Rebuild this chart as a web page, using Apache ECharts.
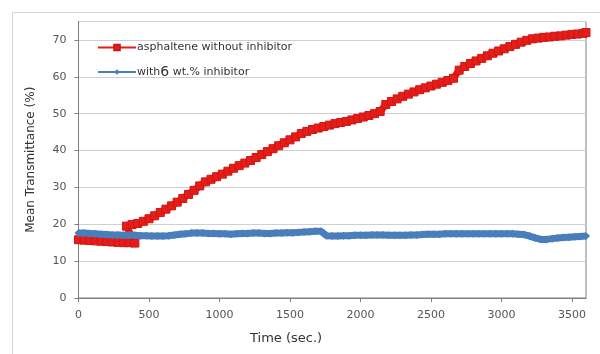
<!DOCTYPE html>
<html><head><meta charset="utf-8">
<script src="https://cdn.jsdelivr.net/npm/echarts@6/dist/echarts.min.js"></script>
<style>html,body{margin:0;padding:0;background:#fff}#c{width:600px;height:354px}</style>
</head><body><div id="c"></div>
<script>
var seriesNames = ['asphaltene without inhibitor', 'with6 wt.% inhibitor'];
var xTicks = [0, 500, 1000, 1500, 2000, 2500, 3000, 3500];
var yTicks = [0, 10, 20, 30, 40, 50, 60, 70];

var redTime = [0,40,80,120,160,200,240,280,320,360,400,
  340,380,420,460,500,540,580,620,660,700,740,780,820,860,900,940,980,1020,1060,1100,1140,1180,1220,1260,1300,1340,1380,1420,1460,1500,1540,1580,1620,1660,1700,1740,1780,1820,1860,1900,1940,1980,2020,2060,2100,2140,2180,2220,2260,2300,2340,2380,2420,2460,2500,2540,2580,2620,2660,2700,2740,2780,2820,2860,2900,2940,2980,3020,3060,3100,3140,3180,3220,3260,3300,3340,3380,3420,3460,3500,3540,3580,3600];
var redValue = [15.8,15.7,15.6,15.5,15.4,15.3,15.2,15.1,15.0,15.0,14.9,
  19.5,19.9,20.2,20.8,21.5,22.3,23.2,24.1,25.0,26.0,27.0,28.1,29.2,30.4,31.5,32.2,32.9,33.6,34.4,35.2,35.9,36.6,37.3,38.1,38.9,39.7,40.5,41.3,42.1,42.9,43.7,44.6,45.2,45.7,46.1,46.5,46.9,47.3,47.6,47.9,48.3,48.7,49.1,49.5,50.0,50.6,52.5,53.3,54.0,54.7,55.3,55.9,56.5,57.0,57.5,58.0,58.5,59.0,59.6,61.8,62.8,63.6,64.3,65.0,65.7,66.4,67.0,67.6,68.2,68.8,69.4,69.9,70.3,70.5,70.7,70.8,71.0,71.1,71.3,71.5,71.6,71.8,72.0];

var blueTime = [0,40,80,120,160,200,240,280,320,360,400,440,480,520,560,600,640,680,720,760,800,840,880,920,960,1000,1040,1080,1120,1160,1200,1240,1280,1320,1360,1400,1440,1480,1520,1560,1600,1640,1680,1720,1760,1800,1840,1880,1920,1960,2000,2040,2080,2120,2160,2200,2240,2280,2320,2360,2400,2440,2480,2520,2560,2600,2640,2680,2720,2760,2800,2840,2880,2920,2960,3000,3040,3080,3120,3160,3200,3240,3280,3320,3360,3400,3440,3480,3520,3560,3600];
var blueValue = [17.6,17.6,17.5,17.4,17.3,17.2,17.1,17.1,17.0,17.0,17.0,16.9,16.9,16.8,16.8,16.8,16.9,17.1,17.3,17.4,17.6,17.6,17.6,17.5,17.5,17.4,17.4,17.3,17.4,17.5,17.5,17.6,17.6,17.5,17.5,17.6,17.6,17.7,17.7,17.8,17.9,18.0,18.1,18.1,16.9,16.8,16.8,16.9,16.9,17.0,17.0,17.0,17.1,17.1,17.1,17.0,17.0,17.0,17.0,17.1,17.1,17.2,17.3,17.3,17.3,17.4,17.4,17.4,17.4,17.4,17.4,17.4,17.4,17.4,17.4,17.4,17.4,17.4,17.3,17.2,16.8,16.3,15.9,15.9,16.1,16.3,16.4,16.5,16.6,16.7,16.8];

function pairs(t, v){ return t.map(function(x,i){ return [x, v[i]]; }); }

var chart = echarts.init(document.getElementById('c'), null, {renderer:'canvas'});
chart.setOption({
  animation: false,
  backgroundColor: '#fff',
  graphic: [
    {type:'rect', shape:{x:12.5, y:12.5, width:600, height:360}, style:{fill:'none', stroke:'#d4d4d4', lineWidth:1}, z:-1},
    {type:'text', left: 250, top: 332, style:{text:'Time (sec.)', font:'13px "DejaVu Sans", sans-serif', fill:'#333'}}
  ],
  grid: {left: 78.5, right: 14, top: 21.5, bottom: 56, show: true, borderColor: '#7f7f7f', borderWidth: 1},
  legend: {
    orient: 'vertical', left: 92, top: 37, itemWidth: 38, itemHeight: 7, itemGap: 12,
    data: seriesNames,
    lineStyle: {width: 2},
    textStyle: {fontSize: 11, color: '#333', fontFamily: 'DejaVu Sans', padding:[0,0,0,-4],
      rich: {b: {fontSize: 14, color: '#333', fontFamily: 'DejaVu Sans'}}},
    formatter: function(n){ return n === seriesNames[1] ? 'with{b|6} wt.% inhibitor' : n; }
  },
  xAxis: {
    type: 'value', min: 0, max: 3600, interval: 500,
    axisLine: {show: true, lineStyle: {color: '#7f7f7f'}},
    axisTick: {show: true, length: 4, lineStyle: {color: '#7f7f7f'}},
    splitLine: {show: false},
    axisLabel: {color: '#555', fontSize: 11, fontFamily: 'DejaVu Sans', margin: 12, showMaxLabel: false,
      formatter: function(v){ return xTicks.indexOf(v) >= 0 ? String(v) : ''; }}
  },
  yAxis: {
    type: 'value', min: 0, max: 75, interval: 10,
    name: 'Mean Transmittance (%)', nameLocation: 'middle', nameGap: 42,
    nameTextStyle: {fontSize: 12, color: '#333', fontFamily: 'DejaVu Sans'},
    axisLine: {show: true, lineStyle: {color: '#7f7f7f'}},
    axisTick: {show: true, length: 4, lineStyle: {color: '#7f7f7f'}},
    splitLine: {show: true, lineStyle: {color: '#cfcfcf'}},
    axisLabel: {color: '#555', fontSize: 11, fontFamily: 'DejaVu Sans', margin: 12, showMaxLabel: false,
      formatter: function(v){ return yTicks.indexOf(v) >= 0 ? String(v) : ''; }}
  },
  series: [
    {name: seriesNames[0], type: 'line', data: pairs(redTime, redValue),
      symbol: 'rect', symbolSize: 8, showAllSymbol: true,
      lineStyle: {color: '#e51d1a', width: 7},
      itemStyle: {color: '#e51d1a', borderColor: '#d01612', borderWidth: 1}, z: 3},
    {name: seriesNames[1], type: 'line', data: pairs(blueTime, blueValue),
      symbol: 'diamond', symbolSize: 8, showAllSymbol: true,
      lineStyle: {color: '#4a7ebb', width: 7},
      itemStyle: {color: '#4a7ebb'}, z: 4}
  ]
});
</script></body></html>
